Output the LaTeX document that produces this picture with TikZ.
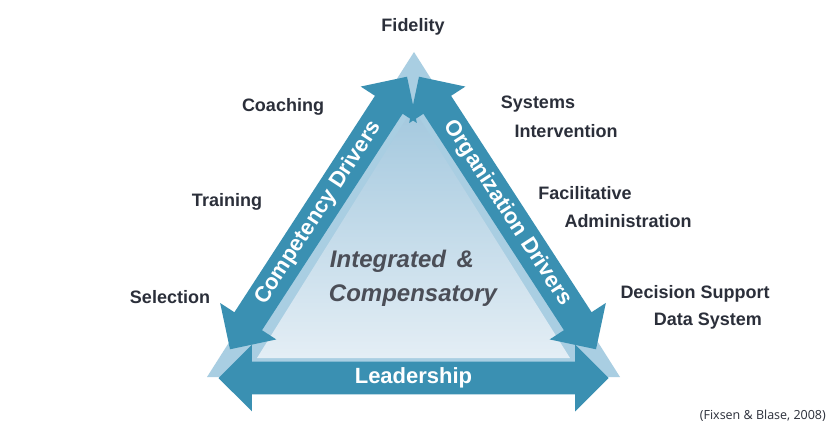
\documentclass[tikz,border=0pt]{standalone}
\usepackage{fontspec}
\setmainfont{Liberation Sans}
\newfontfamily\osans{Open Sans}
\usetikzlibrary{shapes.arrows}
\definecolor{dk}{HTML}{3A90B2}
\definecolor{lt}{HTML}{A9CEE2}
\definecolor{gtop}{HTML}{A3C8DE}
\definecolor{gbot}{HTML}{E4EEF5}
\definecolor{tx}{HTML}{2B2F3A}
\tikzset{
 darr/.style={double arrow, fill=dk, draw=none, text=white, font=\bfseries\fontsize{22}{22}\selectfont,
   double arrow head extend=17pt, double arrow head indent=0pt, inner xsep=1pt, inner ysep=6pt, anchor=center},
 lab/.style={text=tx, font=\bfseries\fontsize{18}{18}\selectfont, inner sep=0pt}
}
\begin{document}
\begin{tikzpicture}[x=1pt,y=-1pt]
\useasboundingbox[fill=white] (0,0) rectangle (833,436);
\fill[lt] (207,377) coordinate (o1) -- (620,377) coordinate (o2) -- (414,52) coordinate (o3) -- cycle;
\shade[top color=gtop, bottom color=gbot] (257,358) -- (570,358) -- (413,108) -- cycle;
\node[darr, rotate=57, minimum height=325pt] (comp) at (318.5,213) {Competency Drivers};
\node[darr, rotate=-57, minimum height=325pt] (org) at (507.5,213) {Organization Drivers};
\node[darr, minimum height=390pt] (lead) at (413.5,378) {Leadership};
\node[lab] (fid) at (413,27) {Fidelity};
\node[lab] (coach) at (283,107) {Coaching};
\node[lab] (train) at (227,202) {Training};
\node[lab] (sel) at (170,297) {Selection};
\node[lab] (sys1) at (538,104) {Systems};
\node[lab] (sys2) at (566,131) {Intervention};
\node[lab] (fac1) at (585,193) {Facilitative};
\node[lab] (fac2) at (628,221) {Administration};
\node[lab] (dec1) at (695,294) {Decision Support};
\node[lab] (dec2) at (708,321) {Data System};
\node[lab, text=tx!85, font=\bfseries\itshape\fontsize{24}{24}\selectfont] (int1) at (402,261) {Integrated \,\&};
\node[lab, text=tx!85, font=\bfseries\itshape\fontsize{24}{24}\selectfont] (int2) at (413,296) {Compensatory};
\node[text=tx, font=\osans\fontsize{12.5}{13}\selectfont, inner sep=0pt, anchor=east] (cite) at (826,416) {(Fixsen \& Blase, 2008)};
\end{tikzpicture}
\end{document}
